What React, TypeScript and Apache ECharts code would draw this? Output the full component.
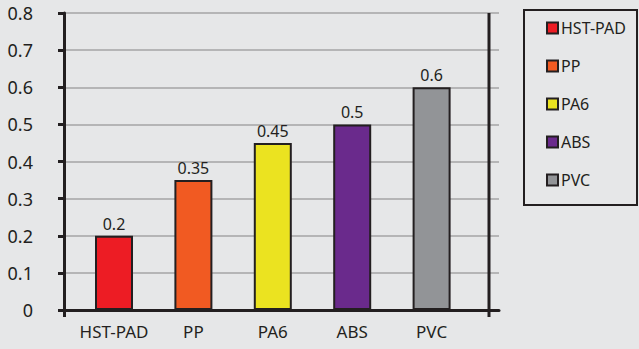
import React, { useEffect, useRef } from "react";
import * as echarts from "echarts";

const categories = ["HST-PAD", "PP", "PA6", "ABS", "PVC"];
const values = [0.2, 0.35, 0.45, 0.5, 0.6];
const colors = ["#ed1c24", "#f15a22", "#ebe320", "#6a2a8c", "#929497"];
const yTicks = [0, 0.1, 0.2, 0.3, 0.4, 0.5, 0.6, 0.7, 0.8];

const INK = "#231f20";
const FONT = "'Noto Sans', sans-serif";

export default function App() {
  const ref = useRef<HTMLDivElement>(null);
  useEffect(() => {
    document.body.style.margin = "0";
    const chart = echarts.init(ref.current!, null, { renderer: "svg" });
    const series: any[] = categories.map((name, i) => ({
      name,
      type: "bar",
      xAxisIndex: 1,
      yAxisIndex: 1,
      barWidth: 38,
      barGap: "-100%",
      data: categories.map((_, j) => (j === i ? values[i] : "-")),
      itemStyle: { color: colors[i], borderColor: INK, borderWidth: 2 },
      label: {
        show: true,
        position: "top",
        distance: 4,
        color: INK,
        fontSize: 16,
        fontFamily: FONT,
      },
    }));
    chart.setOption({
      animation: false,
      backgroundColor: "#e6e7e8",
      textStyle: { fontFamily: FONT, color: INK },
      grid: [
        { left: 64, top: 13, width: 435, height: 297 },
        { left: 74.3, top: 13, width: 397, height: 297 },
      ],
      xAxis: [
        {
          gridIndex: 0,
          type: "value",
          min: 0,
          max: 435,
          axisLine: { show: true, lineStyle: { color: INK, width: 3 } },
          axisTick: { show: true, customValues: [0], length: 7, lineStyle: { color: INK, width: 3 } },
          axisLabel: { show: false },
          splitLine: { show: false },
        },
        {
          gridIndex: 1,
          type: "category",
          data: categories,
          axisLine: { show: false },
          axisTick: { show: false },
          axisLabel: { color: INK, fontSize: 17, margin: 13, fontFamily: FONT, interval: 0 },
        },
      ],
      yAxis: [
        {
          gridIndex: 0,
          type: "value",
          min: 0,
          max: 0.8,
          interval: 0.1,
          axisLine: { show: true, lineStyle: { color: INK, width: 3 } },
          axisTick: { show: true, length: 6, lineStyle: { color: INK, width: 3 } },
          axisLabel: {
            color: INK,
            fontSize: 18,
            margin: 31,
            fontFamily: FONT,
            formatter: (v: number) => {
              const m = yTicks.find((t) => Math.abs(t - v) < 1e-9);
              return m === undefined ? "" : String(m);
            },
          },
          splitLine: { show: true, lineStyle: { color: "#b5b5b6", width: 2 } },
        },
        { gridIndex: 1, type: "value", min: 0, max: 0.8, show: false },
      ],
      legend: {
        orient: "vertical",
        left: 541,
        top: 15,
        itemWidth: 11,
        itemHeight: 11,
        itemGap: 22,
        icon: "rect",
        textStyle: { color: INK, fontSize: 16, fontFamily: FONT, padding: [0, 0, 0, -2] },
        data: categories,
      },
      graphic: [
        {
          type: "line",
          shape: { x1: 489, y1: 13, x2: 489, y2: 317 },
          style: { stroke: INK, lineWidth: 3 },
          z: 10,
        },
        {
          type: "rect",
          shape: { x: 524, y: 10, width: 113, height: 195 },
          style: { fill: "none", stroke: INK, lineWidth: 2 },
        },
      ],
      series,
    });
    return () => chart.dispose();
  }, []);
  return <div ref={ref} style={{ width: 639, height: 349 }} />;
}
